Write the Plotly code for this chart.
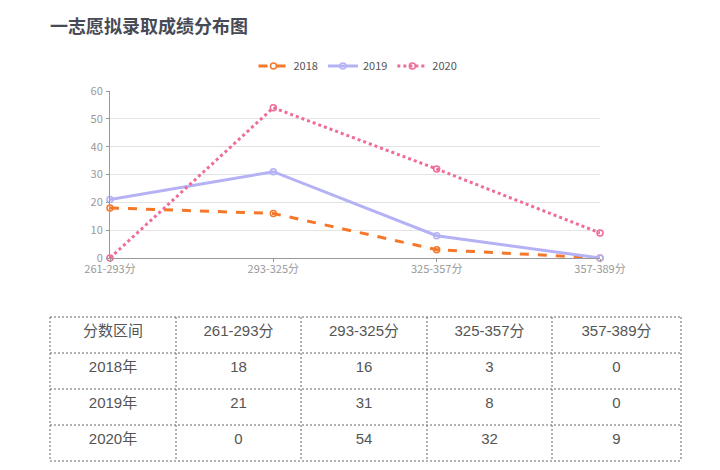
import plotly.graph_objects as go

categories = ["261-293分", "293-325分", "325-357分", "357-389分"]
years = ["2018", "2019", "2020"]
v2018 = [18, 16, 3, 0]
v2019 = [21, 31, 8, 0]
v2020 = [0, 54, 32, 9]
table_header = ["分数区间"] + categories
row_labels = ["2018年", "2019年", "2020年"]

W, H = 720, 470
OFF = 8  # page body margin
def px(x): return (x - OFF) / W
def py(y): return 1 - (y - OFF) / H

series = [
    (years[0], v2018, "#f5772a", "dash", 3),
    (years[1], v2019, "#b4b2f5", "solid", 3),
    (years[2], v2020, "#ef6b9a", "dot", 3),
]

fig = go.Figure()
for name, vals, color, dash, w in series:
    fig.add_trace(go.Scatter(
        x=categories, y=vals, name=name, mode="lines+markers",
        line=dict(color=color, width=w, dash=dash),
        marker=dict(symbol="circle-open", size=6, color=color, line=dict(width=1.5, color=color)),
        cliponaxis=False,
    ))

cols = [[r for r in row_labels]] + [[str(a), str(b), str(c)] for a, b, c in zip(v2018, v2019, v2020)]
fig.add_trace(go.Table(
    domain=dict(x=[px(50), px(681)], y=[py(461), py(317)]),
    columnwidth=[126, 125, 126, 125, 129],
    header=dict(values=table_header, height=36, align="center",
                fill=dict(color="rgba(0,0,0,0)"), line=dict(color="rgba(0,0,0,0)", width=1),
                font=dict(family="Liberation Sans, Noto Sans CJK SC", size=15, color="#555555")),
    cells=dict(values=cols, height=36, align="center",
               fill=dict(color="rgba(0,0,0,0)"), line=dict(color="rgba(0,0,0,0)", width=1),
               font=dict(family="Liberation Sans, Noto Sans CJK SC", size=15, color="#555555")),
))

shapes = []
xs = [50, 176, 301, 427, 552, 681]
ys = [317, 353, 389, 425, 461]
for x in xs:
    shapes.append(dict(type="line", xref="paper", yref="paper", x0=px(x), x1=px(x), y0=py(317), y1=py(461),
                       line=dict(color="#666666", width=1, dash="2px,2px"), layer="below"))
for y in ys:
    shapes.append(dict(type="line", xref="paper", yref="paper", x0=px(50), x1=px(681), y0=py(y), y1=py(y),
                       line=dict(color="#666666", width=1, dash="2px,2px"), layer="below"))

fig.update_layout(
    width=W, height=H, margin=dict(l=0, r=0, t=0, b=0, autoexpand=False),
    paper_bgcolor="white", plot_bgcolor="white",
    font=dict(family="Noto Sans CJK SC, sans-serif", color="#666666"),
    title=dict(text="<b>一志愿拟录取成绩分布图</b>", x=px(50), xanchor="left", y=py(27), yanchor="middle",
               font=dict(size=18, color="#464a55", family="Noto Sans CJK SC")),
    legend=dict(orientation="h", x=px(358), xanchor="center", y=py(66), yanchor="middle",
                font=dict(size=11, color="#555555"), itemwidth=30, bgcolor="rgba(0,0,0,0)"),
    xaxis=dict(domain=[px(110), px(600)], type="category", range=[0, 3], showgrid=False, automargin=False,
               showline=True, linecolor="#999999", ticks="outside", ticklen=3, tickcolor="#999999",
               ticklabelstandoff=-2,
               tickfont=dict(size=11, color="#999999"), zeroline=False, fixedrange=True),
    yaxis=dict(domain=[py(258), py(91)], range=[0, 60], dtick=10, showgrid=True, gridcolor="#e3e3e3", automargin=False,
               showline=True, linecolor="#999999", ticks="outside", ticklen=3, tickcolor="#999999",
               ticklabelstandoff=1,
               tickfont=dict(size=11, color="#999999"), zeroline=False, fixedrange=True),
    shapes=shapes,
)

fig.write_html("out.html", config={"displayModeBar": False})
